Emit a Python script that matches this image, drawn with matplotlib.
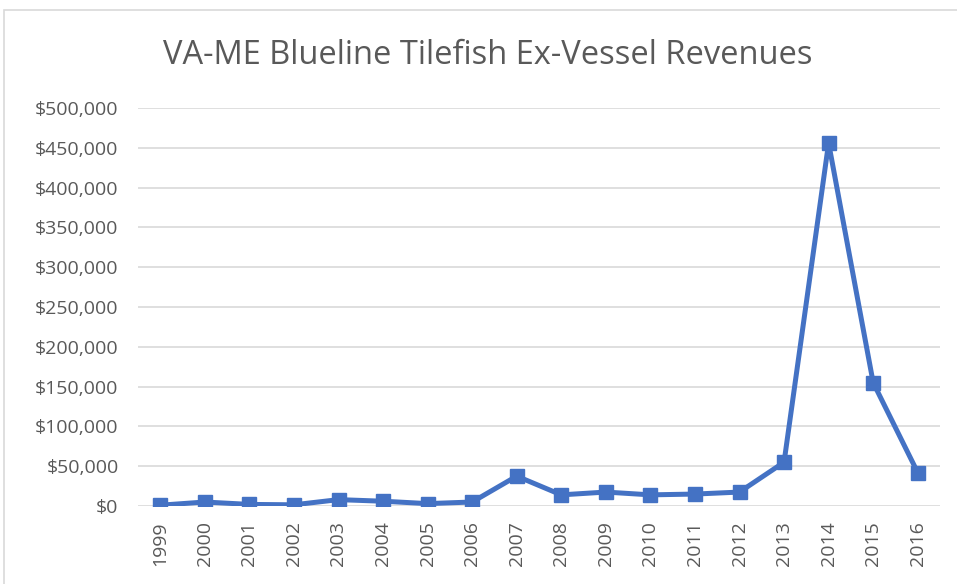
import matplotlib.pyplot as plt
from matplotlib.patches import Rectangle
from matplotlib.ticker import FuncFormatter

years = ['1999', '2000', '2001', '2002', '2003', '2004', '2005', '2006', '2007',
         '2008', '2009', '2010', '2011', '2012', '2013', '2014', '2015', '2016']
revenues = [1000, 5000, 2000, 1500, 8000, 6000, 3000, 5000, 37500,
            14000, 17500, 14000, 15000, 17500, 55000, 456000, 155000, 42000]

plt.rcParams['font.family'] = ['Open Sans', 'DejaVu Sans']

fig = plt.figure(figsize=(9.57, 5.84), dpi=100)
ax = fig.add_axes([138 / 957, 1 - 506 / 584, (940 - 138) / 957, (506 - 108) / 584])

# chart border
fig.patches.append(Rectangle((4 / 957, -0.01), 1.0, 1 - 10 / 584 + 0.01,
                             transform=fig.transFigure, fill=False,
                             edgecolor='#d9d9d9', linewidth=1.2))

x = range(len(years))
ax.plot(x, revenues, color='#4472C4', linewidth=3.6, marker='s',
        markersize=10, zorder=3)

ax.set_xlim(-0.5, len(years) - 0.5)
ax.set_ylim(0, 500000)
ax.set_yticks(range(0, 500001, 50000))
ax.yaxis.set_major_formatter(FuncFormatter(lambda v, p: '${:,.0f}'.format(v)))
ax.set_xticks(list(x))
ax.set_xticklabels(years, rotation=90)

ax.grid(axis='y', color='#d9d9d9', linewidth=1.2)
ax.set_axisbelow(True)
for s in ax.spines.values():
    s.set_visible(False)
ax.tick_params(axis='both', length=0, labelsize=14, colors='#595959')
ax.tick_params(axis='y', pad=14)
ax.tick_params(axis='x', pad=11)

fig.text(488 / 957, 1 - 55 / 584, 'VA-ME Blueline Tilefish Ex-Vessel Revenues',
         ha='center', va='center', fontsize=23.5, color='#595959')

fig.savefig('out.png', dpi=100)
